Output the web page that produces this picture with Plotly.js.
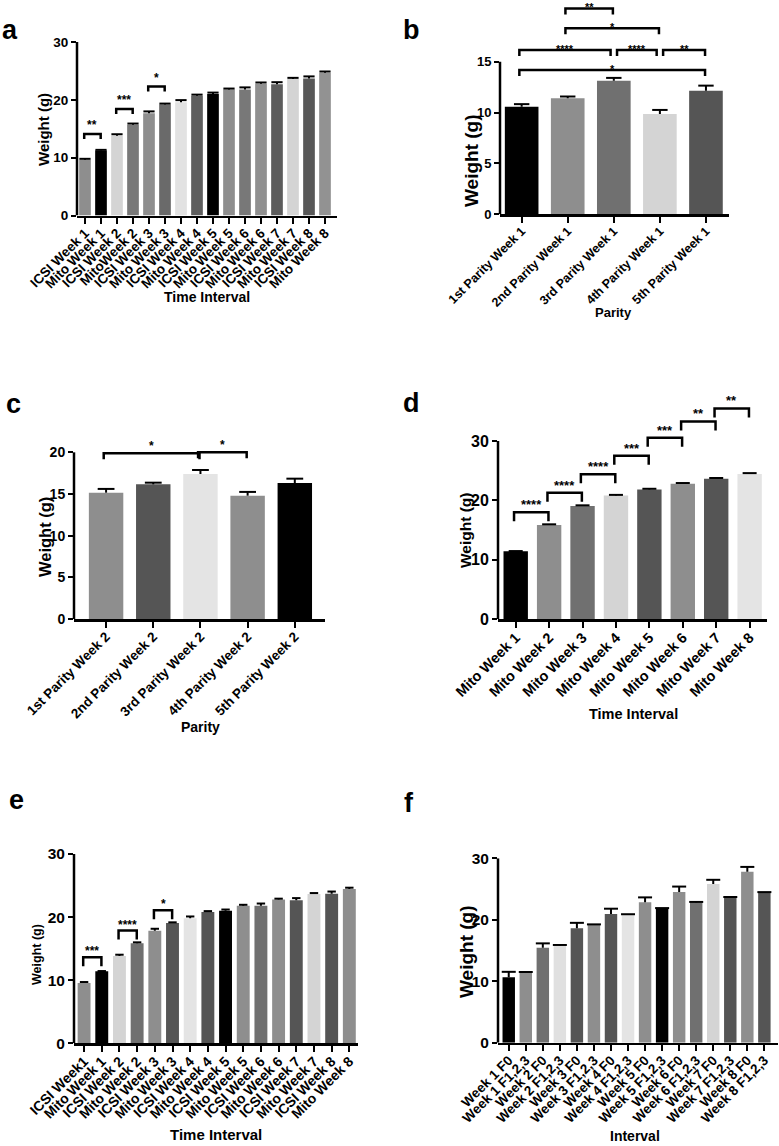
<!DOCTYPE html>
<html><head><meta charset="utf-8">
<script src="https://cdn.plot.ly/plotly-3.0.1.min.js"></script>
<style>html,body{margin:0;padding:0;background:#fff}#chart{width:779px;height:1146px}</style>
</head><body><div id="chart"></div>
<script>
// ---------- Panel a ----------
const aLabels = ['ICSI Week 1','Mito Week 1','ICSI Week 2','MitoWeek 2','ICSI Week 3','Mito Week 3','ICSI Week 4','Mito Week 4','ICSI Week 5','Mito Week 5','ICSI Week 6','Mito Week 6','ICSI Week 7','Mito Week 7','ICSI Week 8','Mito Week 8'];
const aValues = [9.65,11.25,13.8,15.7,17.7,19.2,19.6,20.7,21.0,21.8,21.8,22.8,22.7,23.6,23.7,24.7];
const aErrors = [0.15,0.1,0.25,0.2,0.3,0.15,0.35,0.2,0.25,0.15,0.35,0.2,0.35,0.2,0.35,0.2];
const aColors = ['#8e8e8e','#000000','#d4d4d4','#787878','#8e8e8e','#6a6a6a','#e2e2e2','#5e5e5e','#000000','#8e8e8e','#787878','#909090','#5c5c5c','#d4d4d4','#585858','#929292'];
const aSigPairs = [[0,1],[2,3],[4,5]];
const aSigLabels = ['**','***','*'];
const aSigLevels = [14.1,18.4,22.3];

// ---------- Panel b ----------
const bLabels = ['1st Parity Week 1','2nd Parity Week 1','3rd Parity Week 1','4th Parity Week 1','5th Parity Week 1'];
const bValues = [10.58,11.4,13.13,9.86,12.15];
const bErrors = [0.25,0.18,0.28,0.4,0.5];
const bColors = ['#000000','#8e8e8e','#707070','#d4d4d4','#555555'];
const bSigPairs = [[0,4],[0,2],[2,3],[3,4],[1,3],[1,2]];
const bSigLabels = ['*','****','****','**','*','**'];
const bSigLevels = [14.18,16.15,16.15,16.15,18.28,20.24];

// ---------- Panel c ----------
const cLabels = ['1st Parity Week 2','2nd Parity Week 2','3rd Parity Week 2','4th Parity Week 2','5th Parity Week 2'];
const cValues = [15.16,16.16,17.4,14.8,16.32];
const cErrors = [0.45,0.2,0.48,0.45,0.52];
const cColors = ['#8e8e8e','#555555','#e4e4e4','#8e8e8e','#000000'];
const cSigPairs = [[0,2],[2,3]];
const cSigLabels = ['*','*'];
const cSigLevels = [19.88,20.0];

// ---------- Panel d ----------
const dLabels = ['Mito Week 1','Mito Week 2','Mito Week 3','Mito Week 4','Mito Week 5','Mito Week 6','Mito Week 7','Mito Week 8'];
const dValues = [11.4,15.84,19.04,20.8,21.85,22.8,23.65,24.44];
const dErrors = [0.05,0.12,0.12,0.12,0.1,0.12,0.12,0.15];
const dColors = ['#000000','#8e8e8e','#707070','#d4d4d4','#555555','#8e8e8e','#555555','#e4e4e4'];
const dSigPairs = [[0,1],[1,2],[2,3],[3,4],[4,5],[5,6],[6,7]];
const dSigLabels = ['****','****','****','***','***','**','**'];
const dSigLevels = [17.98,21.3,24.4,27.5,30.56,33.3,35.5];

// ---------- Panel e ----------
const eLabels = ['ICSI Week1','Mito Week 1','ICSI Week 2','Mito Week 2','ICSI Week 3','Mito Week 3','ICSI Week 4','Mito Week 4','ICSI Week 5','Mito Week 5','ICSI Week 6','Mito Week 6','ICSI Week 7','Mito Week 7','ICSI Week 8','Mito Week 8'];
const eValues = [9.56,11.4,13.84,15.85,17.85,19.07,19.8,20.8,21.0,21.8,21.8,22.77,22.66,23.66,23.7,24.46];
const eErrors = [0.15,0.05,0.2,0.15,0.3,0.1,0.3,0.15,0.2,0.15,0.35,0.15,0.35,0.15,0.35,0.2];
const eColors = ['#8e8e8e','#000000','#d4d4d4','#707070','#8e8e8e','#555555','#e4e4e4','#555555','#000000','#8e8e8e','#707070','#8e8e8e','#555555','#d4d4d4','#555555','#8e8e8e'];
const eSigPairs = [[0,1],[2,3],[4,5]];
const eSigLabels = ['***','****','*'];
const eSigLevels = [13.63,17.86,21.08];

// ---------- Panel f ----------
const fLabels = ['Week 1 F0','Week 1 F1,2,3','Week 2 F0','Week 2 F1,2,3','Week 3 F0','Week 3 F1,2,3','Week 4 F0','Week 4 F1,2,3','Week 5 F0','Week 5 F1,2,3','Week 6 F0','Week 6 F1,2,3','Week 7 F0','Week 7 F1,2,3','Week 8 F0','Week 8 F1,2,3'];
const fValues = [10.63,11.4,15.46,15.8,18.6,19.15,20.95,20.8,22.84,21.8,24.5,22.8,25.8,23.6,27.8,24.4];
const fErrors = [0.9,0.1,0.7,0.1,0.9,0.1,0.85,0.1,0.8,0.1,0.9,0.1,0.7,0.1,0.8,0.1];
const fColors = ['#000000','#8e8e8e','#707070','#e0e0e0','#555555','#8e8e8e','#555555','#e4e4e4','#8e8e8e','#000000','#8e8e8e','#707070','#d4d4d4','#555555','#8e8e8e','#555555'];

const W = 779, H = 1146;
const FONT = 'Liberation Sans, Arial, Helvetica, sans-serif';

const panels = [
  {letter:'a', labels:aLabels, values:aValues, errors:aErrors, colors:aColors,
   sigPairs:aSigPairs, sigLabels:aSigLabels, sigLevels:aSigLevels,
   px:{x0:77, x1:337, top:42, bottom:215.5}, yRange:[0,30], yTicks:[0,10,20,30], axisTop:30, xRange:[-0.5,15.75],
   cap:8, tickFont:13.5, xTickFont:13.5, yTitle:{x:43, y:130, size:15}, xTitle:{text:'Time Interval', x:207, y:297, size:14},
   letterPos:{x:0, y:30}, starSize:12, starShift:0, drop:5},
  {letter:'b', labels:bLabels, values:bValues, errors:bErrors, colors:bColors,
   sigPairs:bSigPairs, sigLabels:bSigLabels, sigLevels:bSigLevels,
   px:{x0:500, x1:729, top:0.7, bottom:214.3}, yRange:[0,21], yTicks:[0,5,10,15], axisTop:15, xRange:[-0.47,4.5],
   cap:11, tickFont:13, xTickFont:12.5, yTitle:{x:471, y:161, size:19}, xTitle:{text:'Parity', x:613, y:313, size:13},
   letterPos:{x:401, y:30}, starSize:11, starShift:-7, drop:6},
  {letter:'c', labels:cLabels, values:cValues, errors:cErrors, colors:cColors,
   sigPairs:cSigPairs, sigLabels:cSigLabels, sigLevels:cSigLevels,
   px:{x0:74, x1:325, top:444, bottom:619}, yRange:[0,21], yTicks:[0,5,10,15,20], axisTop:20, xRange:[-0.68,4.64],
   cap:12, tickFont:14, xTickFont:13.5, yTitle:{x:45, y:537, size:16.5}, xTitle:{text:'Parity', x:200, y:727, size:14},
   letterPos:{x:4, y:403.5}, starSize:12, starShift:-2, drop:6},
  {letter:'d', labels:dLabels, values:dValues, errors:dErrors, colors:dColors,
   sigPairs:dSigPairs, sigLabels:dSigLabels, sigLevels:dSigLevels,
   px:{x0:498, x1:767, top:399.5, bottom:619}, yRange:[0,37], yTicks:[0,10,20,30], axisTop:30, xRange:[-0.53,7.52],
   cap:10, tickFont:16, xTickFont:14.5, yTitle:{x:465, y:531, size:15.5}, xTitle:{text:'Time Interval', x:633, y:714, size:14.5},
   letterPos:{x:401, y:403}, starSize:13, starShift:-2, drop:9},
  {letter:'e', labels:eLabels, values:eValues, errors:eErrors, colors:eColors,
   sigPairs:eSigPairs, sigLabels:eSigLabels, sigLevels:eSigLevels,
   px:{x0:74, x1:358, top:854, bottom:1043.3}, yRange:[0,30], yTicks:[0,10,20,30], axisTop:30, xRange:[-0.57,15.49],
   cap:6, tickFont:15.5, xTickFont:14, yTitle:{x:37, y:955, size:12.5}, xTitle:{text:'Time Interval', x:216, y:1134, size:15},
   letterPos:{x:7, y:800}, starSize:12, starShift:-3, drop:9},
  {letter:'f', labels:fLabels, values:fValues, errors:fErrors, colors:fColors,
   sigPairs:[], sigLabels:[], sigLevels:[],
   px:{x0:498, x1:778, top:858.3, bottom:1042.7}, yRange:[0,30], yTicks:[0,10,20,30], axisTop:30, xRange:[-0.63,15.8],
   cap:10, tickFont:15.5, xTickFont:13.5, yTitle:{x:466, y:951, size:19}, xTitle:{text:'Interval', x:635, y:1136, size:14},
   letterPos:{x:402, y:803}, starSize:12, starShift:0, drop:6}
];

const data = [];
const layout = {
  width: W, height: H, margin:{l:0,r:0,t:0,b:0}, paper_bgcolor:'#fff', plot_bgcolor:'rgba(0,0,0,0)',
  showlegend:false, hovermode:false, shapes:[], annotations:[],
  font:{family:FONT, color:'#000', weight:'bold'}
};

panels.forEach((p, k) => {
  const n = k + 1;
  const xa = n === 1 ? 'x' : 'x' + n;
  const ya = n === 1 ? 'y' : 'y' + n;
  const xKey = n === 1 ? 'xaxis' : 'xaxis' + n;
  const yKey = n === 1 ? 'yaxis' : 'yaxis' + n;
  const idx = p.values.map((_, i) => i);

  data.push({
    type:'bar', x: idx, y: p.values, xaxis: xa, yaxis: ya, width: 0.73,
    marker:{color: p.colors, line:{width:0}},
    error_y:{type:'data', symmetric:false, array:p.errors, arrayminus:p.errors.map(() => 0), color:'#000', thickness:2, width:0},
    hoverinfo:'skip'
  });
  // error-bar caps
  data.push({
    type:'scatter', mode:'markers', x: idx, y: p.values.map((v, i) => v + p.errors[i]), xaxis: xa, yaxis: ya,
    marker:{symbol:'line-ew', size:p.cap, color:'#000', line:{width:2, color:'#000'}},
    hoverinfo:'skip', cliponaxis:false
  });

  const heightPx = p.px.bottom - p.px.top;
  layout[xKey] = {
    domain:[p.px.x0 / W, p.px.x1 / W], range:p.xRange, anchor: ya,
    tickmode:'array', tickvals: idx, ticktext: p.labels, tickangle:-45,
    ticks:'outside', ticklen:6, tickwidth:2, tickcolor:'#000', ticklabelstandoff:-4,
    showline:true, linewidth:2.5, linecolor:'#000', showgrid:false, zeroline:false, fixedrange:true,
    tickfont:{family:FONT, size:p.xTickFont, color:'#000', weight:'bold'}
  };
  layout[yKey] = {
    domain:[1 - p.px.bottom / H, 1 - p.px.top / H], range:p.yRange, anchor: xa,
    tickmode:'array', tickvals:p.yTicks, ticks:'outside', ticklen:5, tickwidth:2, tickcolor:'#000',
    showline:false, showgrid:false, zeroline:false, fixedrange:true,
    tickfont:{family:FONT, size:p.tickFont, color:'#000', weight:'bold'}
  };
  // y-axis line up to the top tick
  layout.shapes.push({type:'line', xref: xa + ' domain', yref: ya, x0:0, x1:0, y0:p.yRange[0], y1:p.axisTop,
    line:{color:'#000', width:2.5}});

  // significance brackets
  const dropUnits = p.drop * (p.yRange[1] - p.yRange[0]) / heightPx;
  p.sigPairs.forEach((pair, j) => {
    const lvl = p.sigLevels[j];
    let x0 = pair[0] - 0.05, x1 = pair[1] - 0.02;
    // leave a gap where two brackets on the same level meet at one bar
    p.sigPairs.forEach((q, m) => {
      if (m !== j && p.sigLevels[m] === lvl) {
        if (q[1] === pair[0]) x0 = pair[0] + 0.07;
        if (q[0] === pair[1]) x1 = pair[1] - 0.07;
      }
    });
    layout.shapes.push({type:'path', xref: xa, yref: ya,
      path:`M${x0},${lvl - dropUnits} L${x0},${lvl} L${x1},${lvl} L${x1},${lvl - dropUnits}`,
      line:{color:'#000', width:2.5}});
    layout.annotations.push({xref: xa, yref: ya, x:(x0 + x1) / 2, y:lvl, text:p.sigLabels[j],
      showarrow:false, xanchor:'center', yanchor:'bottom', yshift:p.starShift,
      font:{family:FONT, size:p.starSize, color:'#000', weight:'bold'}});
  });

  // axis titles
  layout.annotations.push({xref:'paper', yref:'paper', x:p.yTitle.x / W, y:1 - p.yTitle.y / H, text:'Weight (g)',
    textangle:-90, showarrow:false, xanchor:'center', yanchor:'middle',
    font:{family:FONT, size:p.yTitle.size, color:'#000', weight:'bold'}});
  layout.annotations.push({xref:'paper', yref:'paper', x:p.xTitle.x / W, y:1 - p.xTitle.y / H, text:p.xTitle.text,
    showarrow:false, xanchor:'center', yanchor:'middle',
    font:{family:FONT, size:p.xTitle.size, color:'#000', weight:'bold'}});
  // panel letter
  layout.annotations.push({xref:'paper', yref:'paper', x:p.letterPos.x / W, y:1 - p.letterPos.y / H, text:p.letter,
    showarrow:false, xanchor:'left', yanchor:'middle',
    font:{family:FONT, size:27, color:'#000', weight:'bold'}});
});

Plotly.newPlot('chart', data, layout, {staticPlot:true, displayModeBar:false});
</script>
</body></html>
